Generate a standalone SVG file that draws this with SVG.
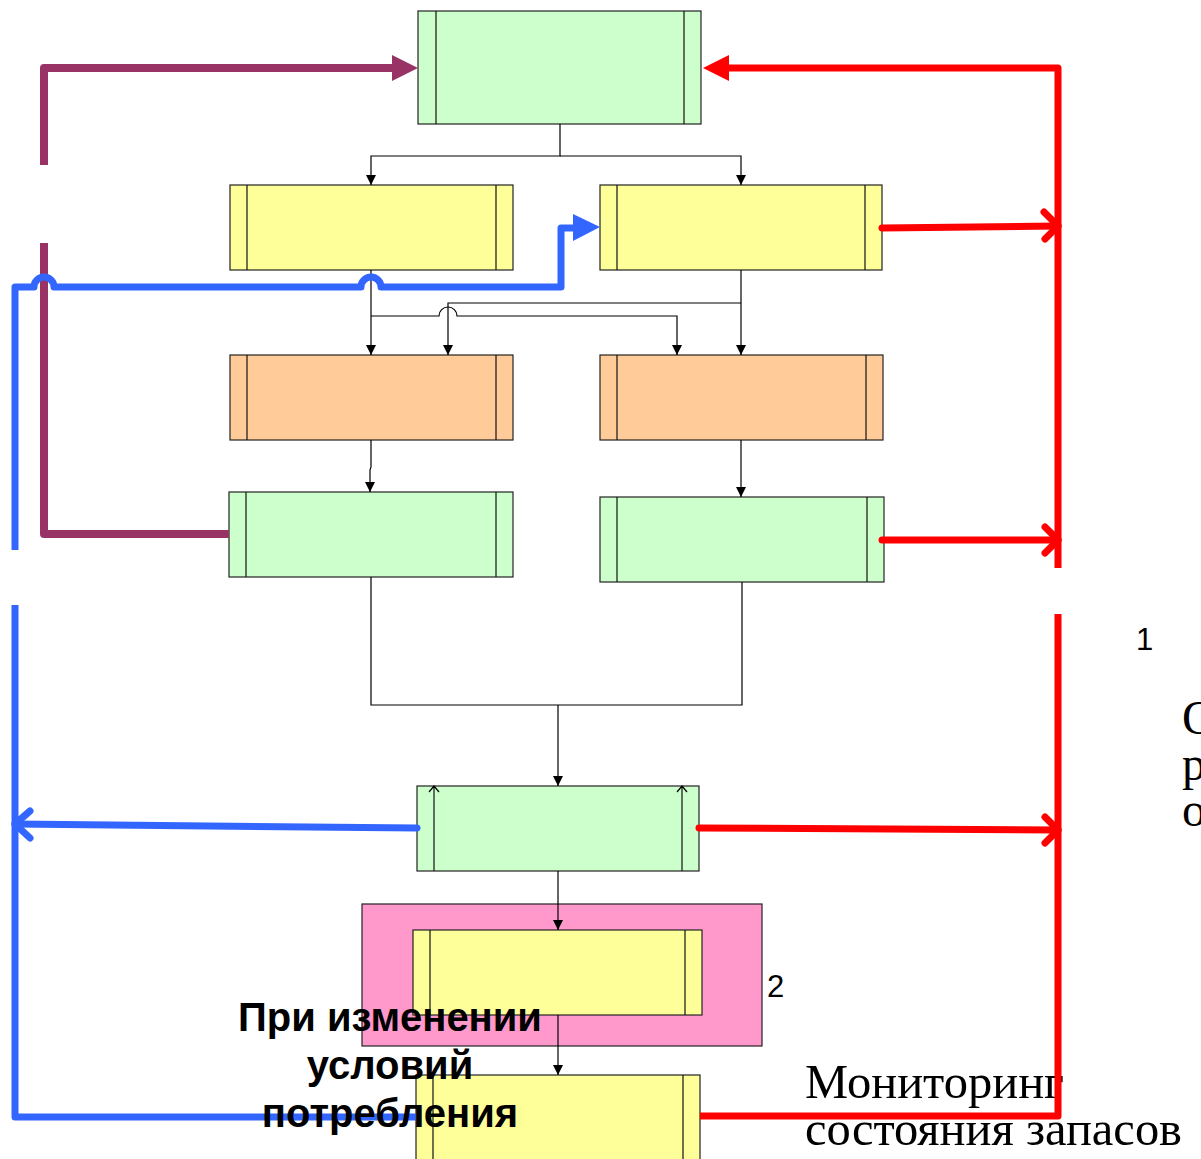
<svg xmlns="http://www.w3.org/2000/svg" width="1201" height="1159" viewBox="0 0 1201 1159">
<defs>
<marker id="ah" markerWidth="10" markerHeight="10" refX="10" refY="5" orient="auto" markerUnits="userSpaceOnUse" viewBox="0 0 10 10"><path d="M0,0 L10,5 L0,10 z" fill="#000"/></marker>
</defs>
<style>
.box{stroke:#222;stroke-width:1.2}
.g{fill:#CCFFCC}.y{fill:#FFFF99}.o{fill:#FFCC99}.p{fill:#FF99CC}
.in{stroke:#111;stroke-width:1.2}
.thin{fill:none;stroke:#000;stroke-width:1.2}
.arr{marker-end:url(#ah)}
.pur{fill:none;stroke:#993366;stroke-width:8;stroke-linejoin:round}
.blu{fill:none;stroke:#3366FF;stroke-width:7;stroke-linejoin:round}
.red{fill:none;stroke:#FF0000;stroke-width:7;stroke-linejoin:round}
.rc{stroke-linecap:round}
.sans{font-family:"Liberation Sans",Arial,sans-serif}
.serif{font-family:"Liberation Serif","Times New Roman",serif}
</style>
<rect width="1201" height="1159" fill="#fff"/>

<g id="n1"><rect class="box g" x="418" y="11" width="283" height="113"/><line class="in" x1="436" y1="11" x2="436" y2="124"/><line class="in" x1="684" y1="11" x2="684" y2="124"/></g>
<g id="n2"><rect class="box y" x="230" y="185" width="283" height="85"/><line class="in" x1="247" y1="185" x2="247" y2="270"/><line class="in" x1="496" y1="185" x2="496" y2="270"/></g>
<g id="n3"><rect class="box y" x="600" y="185" width="282" height="85"/><line class="in" x1="617" y1="185" x2="617" y2="270"/><line class="in" x1="865" y1="185" x2="865" y2="270"/></g>
<g id="n4"><rect class="box o" x="230" y="355" width="283" height="85"/><line class="in" x1="247" y1="355" x2="247" y2="440"/><line class="in" x1="496" y1="355" x2="496" y2="440"/></g>
<g id="n5"><rect class="box o" x="600" y="355" width="283" height="85"/><line class="in" x1="617" y1="355" x2="617" y2="440"/><line class="in" x1="866" y1="355" x2="866" y2="440"/></g>
<g id="n6"><rect class="box g" x="229" y="492" width="284" height="85"/><line class="in" x1="246" y1="492" x2="246" y2="577"/><line class="in" x1="496" y1="492" x2="496" y2="577"/></g>
<g id="n7"><rect class="box g" x="600" y="497" width="284" height="85"/><line class="in" x1="617" y1="497" x2="617" y2="582"/><line class="in" x1="867" y1="497" x2="867" y2="582"/></g>
<g id="n8"><rect class="box g" x="417" y="786" width="282" height="85"/><line class="in" x1="434" y1="786" x2="434" y2="871"/><line class="in" x1="682" y1="786" x2="682" y2="871"/>
<path class="thin" d="M429,792 L434,786 L439,792 M677,792 L682,786 L687,792"/></g>
<g id="n9"><rect class="box p" x="362" y="904" width="400" height="142"/><rect class="box y" x="413" y="930" width="289" height="85"/><line class="in" x1="430" y1="930" x2="430" y2="1015"/><line class="in" x1="685" y1="930" x2="685" y2="1015"/></g>
<g id="n10"><rect class="box y" x="416" y="1075" width="284" height="90"/><line class="in" x1="433" y1="1075" x2="433" y2="1165"/><line class="in" x1="683" y1="1075" x2="683" y2="1165"/></g>

<g id="labels-behind">
<text class="serif" x="805" y="1098" font-size="49" textLength="259" lengthAdjust="spacingAndGlyphs">Мониторинг</text>
<text class="serif" x="805" y="1145" font-size="49" textLength="377" lengthAdjust="spacingAndGlyphs">состояния запасов</text>
</g>

<g id="connectors">
<path class="thin arr" d="M560,124 V156 H371 V185"/>
<path class="thin arr" d="M560,156 H741 V185"/>
<path class="thin arr" d="M371,270 V355"/>
<path class="thin arr" d="M371,316 H439 A9,9 0 0 1 457,316 H677 V355"/>
<path class="thin arr" d="M741,270 V355"/>
<path class="thin arr" d="M741,303 H448 V355"/>
<path class="thin arr" d="M371,440 V467 L370,470 V492"/>
<path class="thin arr" d="M741,440 V497"/>
<path class="thin" d="M371,577 V705 H742 V582"/>
<path class="thin arr" d="M558,705 V786"/>
<path class="thin arr" d="M558,871 V930"/>
<path class="thin arr" d="M558,1015 V1075"/>

<path class="pur" d="M229,534 H44 V243"/>
<path class="pur" d="M44,165 V68 H394"/>
<polygon points="392,55 418,68 392,81" fill="#993366"/>

<path class="blu rc" d="M417,828 L15,824"/>
<path class="blu rc" d="M30,811 L15,824 L30,838"/>
<path class="blu" d="M15,550 V287 H34 A10,10 0 0 1 54,287 H361 A10,10 0 0 1 381,287 H561 V228 H576"/>
<polygon points="573,214 600,227 573,241" fill="#3366FF"/>
<path class="blu" d="M15,605 V1117 H416"/>

<path class="red" d="M1058,568 V68 H727"/>
<polygon points="703,68 729,55 729,81" fill="#FF0000"/>
<path class="red rc" d="M882,228 L1058,226"/>
<path class="red rc" d="M1044,212 L1058,226 L1045,239"/>
<path class="red rc" d="M882,540 H1058"/>
<path class="red rc" d="M1045,527 L1058,540 L1045,553"/>
<path class="red rc" d="M699,828 L1058,830"/>
<path class="red rc" d="M1045,817 L1058,830 L1045,843"/>
<path class="red" d="M1058,614 V1116 H700"/>
</g>

<g id="labels">
<text class="sans" x="1136" y="650" font-size="31">1</text>
<text class="sans" x="767" y="997" font-size="31">2</text>
<text class="serif" x="1182" y="734" font-size="48">О</text>
<text class="serif" x="1182" y="780" font-size="48">р</text>
<text class="serif" x="1182" y="826" font-size="48">о</text>
<text class="sans" font-weight="bold" font-size="40" text-anchor="middle" x="390" y="1031">При изменении</text>
<text class="sans" font-weight="bold" font-size="40" text-anchor="middle" x="390" y="1079">условий</text>
<text class="sans" font-weight="bold" font-size="40" text-anchor="middle" x="390" y="1127">потребления</text>
</g>
</svg>
